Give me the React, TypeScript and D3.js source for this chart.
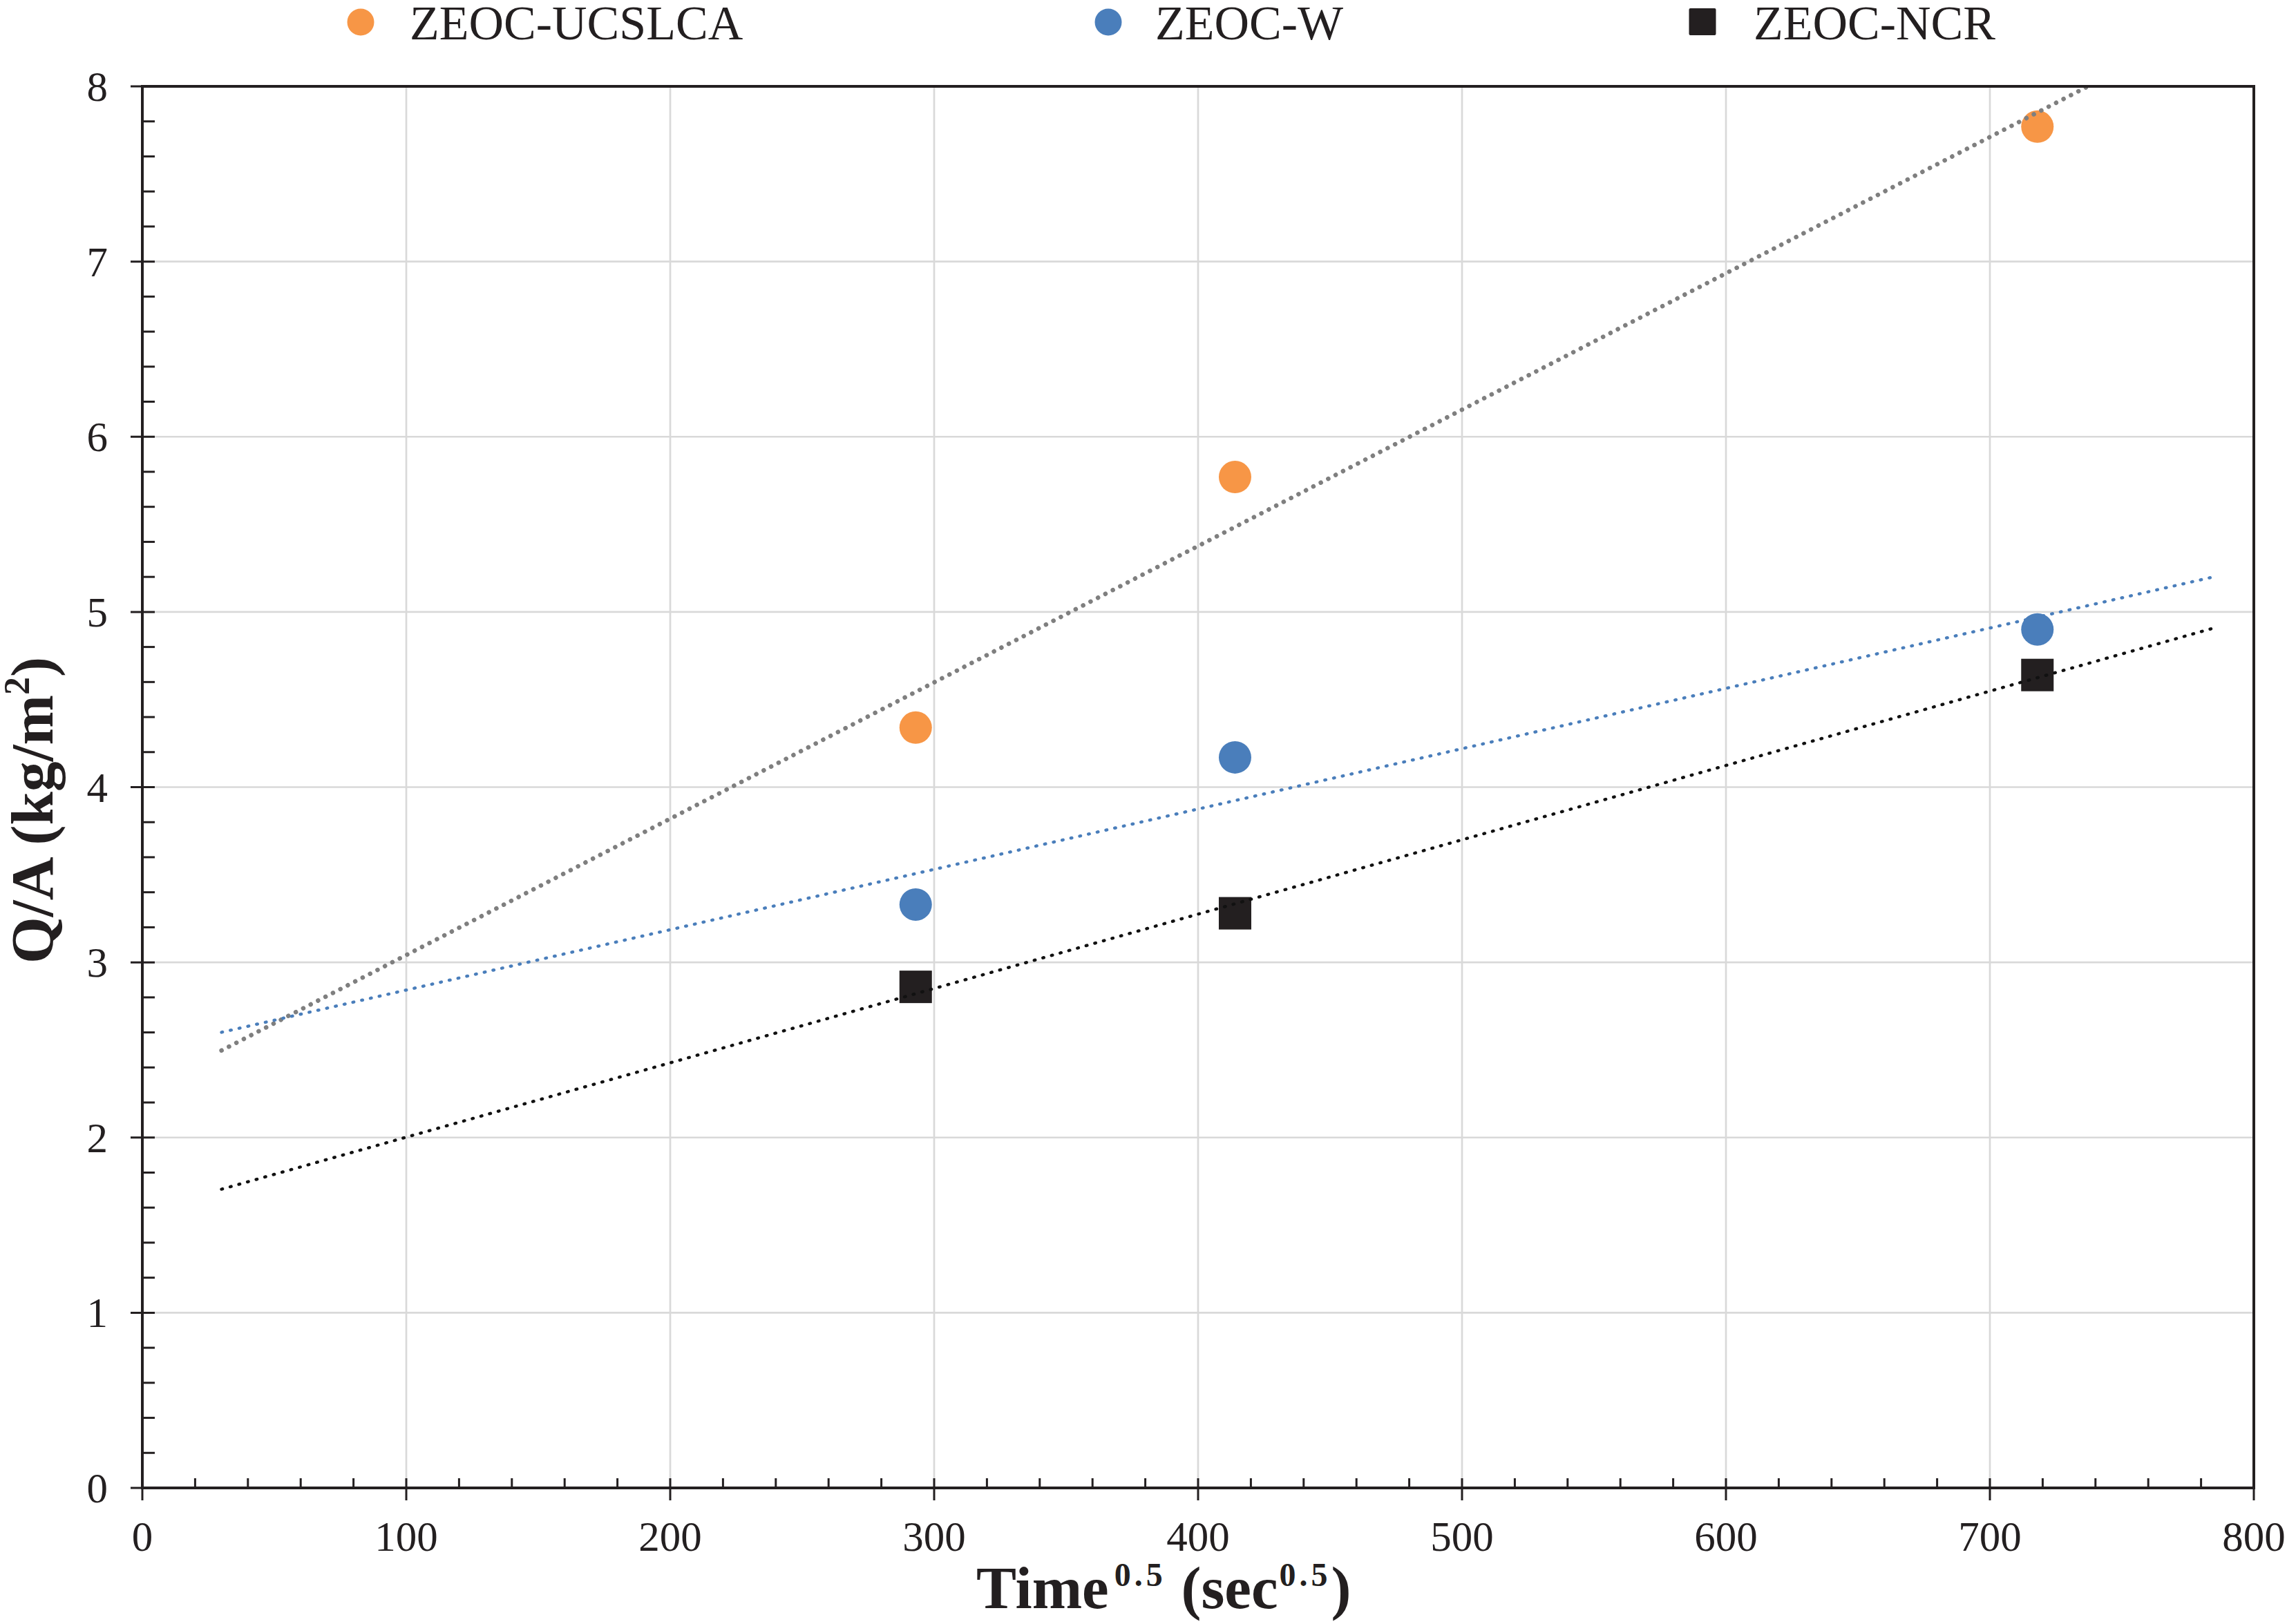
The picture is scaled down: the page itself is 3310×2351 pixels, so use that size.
import React from "react";
import * as d3 from "d3";

const timeSqrt = [293, 414, 718];
const seriesNames = ["ZEOC-UCSLCA", "ZEOC-W", "ZEOC-NCR"];
const ucslca = [4.34, 5.77, 7.77];
const zeocW = [3.33, 4.17, 4.9];
const zeocNcr = [2.86, 3.28, 4.64];
const xTicks = [0, 100, 200, 300, 400, 500, 600, 700, 800];
const yTicks = [0, 1, 2, 3, 4, 5, 6, 7, 8];
const trendRange = [30, 785];

const W = 3310;
const H = 2351;
const L = 206, R = 3262, T = 125, B = 2154;
const AX = "#231f20";
const FONT = "'Liberation Serif', 'Times New Roman', serif";

function regress(xs: number[], ys: number[]) {
  const mx = d3.mean(xs)!;
  const my = d3.mean(ys)!;
  const sxy = d3.sum(xs, (x, i) => (x - mx) * (ys[i] - my));
  const sxx = d3.sum(xs, (x) => (x - mx) ** 2);
  const m = sxy / sxx;
  return { m, b: my - m * mx };
}

export default function App() {
  const x = d3.scaleLinear().domain([0, 800]).range([L, R]);
  const y = d3.scaleLinear().domain([0, 8]).range([B, T]);

  const series = [
    { name: seriesNames[0], vals: ucslca, color: "#f79646", shape: "circle", trend: { stroke: "#7f7f7f", w: 6.5, dash: "0.1 12" } },
    { name: seriesNames[1], vals: zeocW, color: "#4a7ebb", shape: "circle", trend: { stroke: "#4a7ebb", w: 4.5, dash: "1.5 11.5" } },
    { name: seriesNames[2], vals: zeocNcr, color: "#231f20", shape: "square", trend: { stroke: "#111", w: 4.5, dash: "1.5 11.5" } },
  ];

  const minorX = d3.range(0, 801, 20).filter((v) => v % 100 !== 0);
  const minorY = d3.range(0, 8.001, 0.2).map((v) => +v.toFixed(1)).filter((v) => Math.abs(v - Math.round(v)) > 0.01);

  const legendX = [522, 1604, 2464];
  const legendTextX = [593, 1672, 2538];

  return (
    <svg width={W} height={H} style={{ position: "absolute", left: 0, top: 0, background: "#fff" }} fontFamily={FONT}>
      <defs>
        <clipPath id="plot">
          <rect x={L} y={T} width={R - L} height={B - T} />
        </clipPath>
      </defs>
      <rect x={0} y={0} width={W} height={H} fill="#fff" />
      {xTicks.slice(1, -1).map((t) => (
        <line key={"gx" + t} x1={x(t)} x2={x(t)} y1={T} y2={B} stroke="#d9d9d9" strokeWidth={2.7} />
      ))}
      {yTicks.slice(1, -1).map((t) => (
        <line key={"gy" + t} x1={L} x2={R} y1={y(t)} y2={y(t)} stroke="#d9d9d9" strokeWidth={2.7} />
      ))}

      {series.map((s) =>
        s.vals.map((v, i) =>
          s.shape === "circle" ? (
            <circle key={s.name + i} cx={x(timeSqrt[i])} cy={y(v)} r={23.5} fill={s.color} />
          ) : (
            <rect key={s.name + i} x={x(timeSqrt[i]) - 23.5} y={y(v) - 23.5} width={47} height={47} fill={s.color} />
          )
        )
      )}

      <g clipPath="url(#plot)">
        {series.map((s) => {
          const { m, b } = regress(timeSqrt, s.vals);
          const path = d3
            .line<number>()
            .x((d) => x(d))
            .y((d) => y(m * d + b))(trendRange);
          return (
            <path
              key={"tr" + s.name}
              d={path || ""}
              fill="none"
              stroke={s.trend.stroke}
              strokeWidth={s.trend.w}
              strokeDasharray={s.trend.dash}
              strokeLinecap="round"
            />
          );
        })}
      </g>

      <rect x={L} y={T} width={R - L} height={B - T} fill="none" stroke={AX} strokeWidth={4} />

      {minorX.map((t) => (
        <line key={"mx" + t} x1={x(t)} x2={x(t)} y1={B} y2={B - 14} stroke={AX} strokeWidth={3} />
      ))}
      {xTicks.map((t) => (
        <line key={"Mx" + t} x1={x(t)} x2={x(t)} y1={B - 14} y2={B + 18} stroke={AX} strokeWidth={3} />
      ))}
      {minorY.map((t) => (
        <line key={"my" + t} x1={L} x2={L + 18} y1={y(t)} y2={y(t)} stroke={AX} strokeWidth={3} />
      ))}
      {yTicks.map((t) => (
        <line key={"My" + t} x1={L - 17} x2={L + 18} y1={y(t)} y2={y(t)} stroke={AX} strokeWidth={3} />
      ))}

      {xTicks.map((t) => (
        <text key={"lx" + t} x={x(t)} y={2245} fontSize={61} textAnchor="middle" fill={AX}>
          {t}
        </text>
      ))}
      {yTicks.map((t) => (
        <text key={"ly" + t} x={156} y={y(t) + 21} fontSize={61} textAnchor="end" fill={AX}>
          {t}
        </text>
      ))}

      <text x={1413} y={2328} fontSize={87} fontWeight="bold" fill={AX}>
        <tspan>Time</tspan>
        <tspan fontSize={48} dy={-32} dx={8} letterSpacing={5}>0.5</tspan>
        <tspan dy={32}> (sec</tspan>
        <tspan fontSize={48} dy={-32} dx={2} letterSpacing={5}>0.5</tspan>
        <tspan dy={32}>)</tspan>
      </text>
      <text transform={`translate(76, 1173) rotate(-90)`} fontSize={87} fontWeight="bold" textAnchor="middle" fill={AX}>
        <tspan>Q/A (kg/m</tspan>
        <tspan fontSize={52} dy={-34}>2</tspan>
        <tspan dy={34}>)</tspan>
      </text>

      {series.map((s, i) => (
        <g key={"lg" + s.name}>
          {s.shape === "circle" ? (
            <circle cx={legendX[i]} cy={32} r={19.5} fill={s.color} />
          ) : (
            <rect x={legendX[i] - 19.5} y={12} width={39} height={39} rx={2} fill={s.color} />
          )}
          <text x={legendTextX[i]} y={57} fontSize={70} fill={AX}>
            {s.name}
          </text>
        </g>
      ))}
    </svg>
  );
}
